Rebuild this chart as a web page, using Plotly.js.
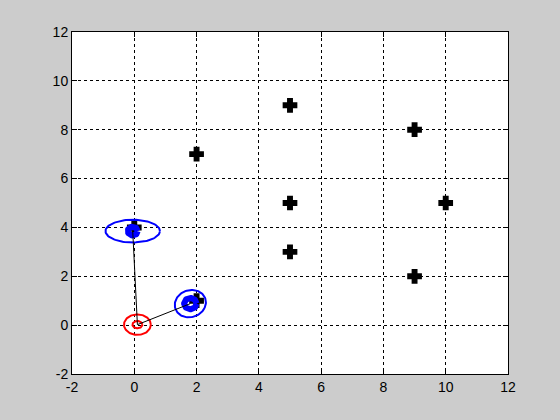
<!DOCTYPE html>
<html>
<head>
<meta charset="utf-8">
<script src="https://cdn.plot.ly/plotly-3.0.1.min.js"></script>
<style>html,body{margin:0;padding:0;background:#cccccc;}#chart{width:560px;height:420px;}</style>
</head>
<body>
<div id="chart"></div>
<script>
// Landmark points (black crosses)
var landmarkX = [2, 5, 5, 5, 9, 9, 10, 2, 0];
var landmarkY = [7, 9, 5, 3, 8, 2, 5, 1, 4];

// Robot position estimate (red) and landmark estimates (blue)
var robotX = 0.1, robotY = 0.02;
var estX = [-0.05, 1.8];
var estY = [3.85, 0.88];

// Ellipses: center x, center y, semi-axis x, semi-axis y, angle (deg), colour, width
var ellCx = [0.1, 0.1, -0.05, -0.05, 1.8, 1.8];
var ellCy = [0.02, 0.02, 3.85, 3.85, 0.88, 0.88];
var ellA  = [0.43, 0.16, 0.875, 0.16, 0.49, 0.2];
var ellB  = [0.42, 0.15, 0.465, 0.18, 0.57, 0.23];
var ellAng = [0, 0, 0, 0, -20, 0];
var ellColor = ['#ff0000', '#ff0000', '#0000ff', '#0000ff', '#0000ff', '#0000ff'];
var ellWidth = [2, 2, 2, 6, 2, 6];

var xTicks = [-2, 0, 2, 4, 6, 8, 10, 12];
var yTicks = [-2, 0, 2, 4, 6, 8, 10, 12];

var traces = [];
traces.push({x: landmarkX, y: landmarkY, mode: 'markers', type: 'scatter',
  marker: {symbol: 'cross', size: 11, color: '#000000', line: {color: '#000000', width: 1.5}}, hoverinfo: 'skip'});

for (var i = 0; i < ellCx.length; i++) {
  var xs = [], ys = [];
  var t = ellAng[i] * Math.PI / 180;
  for (var k = 0; k <= 100; k++) {
    var th = 2 * Math.PI * k / 100;
    var u = ellA[i] * Math.cos(th), v = ellB[i] * Math.sin(th);
    xs.push(ellCx[i] + u * Math.cos(t) - v * Math.sin(t));
    ys.push(ellCy[i] + u * Math.sin(t) + v * Math.cos(t));
  }
  traces.push({x: xs, y: ys, mode: 'lines', type: 'scatter',
    line: {color: ellColor[i], width: ellWidth[i]}, hoverinfo: 'skip'});
}

for (var j = 0; j < estX.length; j++) {
  traces.push({x: [robotX, estX[j]], y: [robotY, estY[j]], mode: 'lines', type: 'scatter',
    line: {color: '#000000', width: 1}, hoverinfo: 'skip'});
}

var axisCommon = {
  showline: true, linecolor: '#000000', linewidth: 1, mirror: 'ticks',
  ticks: 'inside', ticklen: 5, tickcolor: '#000000',
  showgrid: true, gridcolor: '#000000', gridwidth: 1, griddash: '3px,3px',
  zeroline: false, tickfont: {family: 'Liberation Sans, Arial, sans-serif', size: 14, color: '#000000'},
  fixedrange: true
};

var layout = {
  width: 560, height: 420,
  paper_bgcolor: '#cccccc', plot_bgcolor: '#ffffff',
  margin: {l: 72, r: 52, t: 32, b: 46},
  showlegend: false,
  xaxis: Object.assign({}, axisCommon, {range: [-2, 12], tickvals: xTicks, ticktext: xTicks.map(String)}),
  yaxis: Object.assign({}, axisCommon, {range: [-2, 12], tickvals: yTicks, ticktext: yTicks.map(String)})
};

Plotly.newPlot('chart', traces, layout, {staticPlot: true, displayModeBar: false});
</script>
</body>
</html>
